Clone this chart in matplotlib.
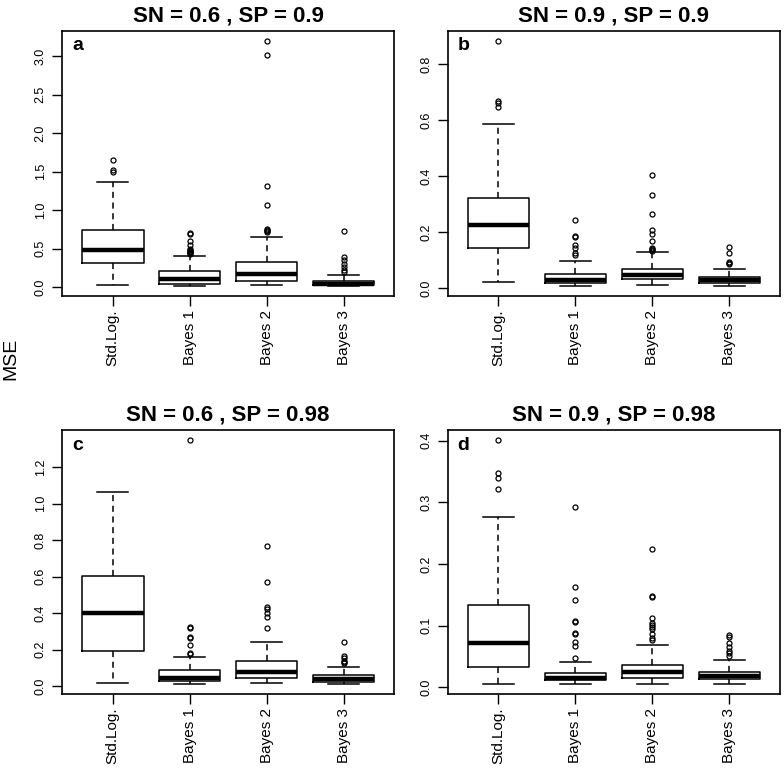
import numpy as np
import matplotlib.pyplot as plt

plt.rcParams['font.family'] = ['Liberation Sans', 'DejaVu Sans']

groups = ["Std.Log.", "Bayes 1", "Bayes 2", "Bayes 3"]
titles = ["SN = 0.6 , SP = 0.9", "SN = 0.9 , SP = 0.9",
          "SN = 0.6 , SP = 0.98", "SN = 0.9 , SP = 0.98"]
letters = ["a", "b", "c", "d"]

# panel a : SN = 0.6, SP = 0.9
a_lo = [0.02, 0.01, 0.02, 0.01]
a_q1 = [0.31, 0.035, 0.083, 0.02]
a_med = [0.48, 0.10, 0.175, 0.045]
a_q3 = [0.74, 0.205, 0.32, 0.083]
a_hi = [1.36, 0.40, 0.65, 0.16]
a_out = [[1.50, 1.52, 1.65],
         [0.43, 0.44, 0.45, 0.46, 0.47, 0.48, 0.50, 0.55, 0.60, 0.69, 0.70],
         [0.72, 0.73, 0.74, 0.75, 1.07, 1.31, 3.01, 3.20],
         [0.19, 0.22, 0.26, 0.30, 0.345, 0.39, 0.73]]
a_ticks = [0.0, 0.5, 1.0, 1.5, 2.0, 2.5, 3.0]

# panel b : SN = 0.9, SP = 0.9
b_lo = [0.022, 0.006, 0.010, 0.006]
b_q1 = [0.141, 0.018, 0.031, 0.018]
b_med = [0.225, 0.028, 0.046, 0.028]
b_q3 = [0.321, 0.051, 0.067, 0.040]
b_hi = [0.587, 0.097, 0.127, 0.069]
b_out = [[0.648, 0.660, 0.668, 0.884],
         [0.118, 0.125, 0.141, 0.153, 0.181, 0.187, 0.243],
         [0.133, 0.136, 0.139, 0.142, 0.168, 0.193, 0.207, 0.265, 0.333, 0.402],
         [0.084, 0.089, 0.093, 0.125, 0.145]]
b_ticks = [0.0, 0.2, 0.4, 0.6, 0.8]

# panel c : SN = 0.6, SP = 0.98
c_lo = [0.018, 0.011, 0.018, 0.011]
c_q1 = [0.194, 0.029, 0.042, 0.024]
c_med = [0.400, 0.042, 0.075, 0.038]
c_q3 = [0.605, 0.088, 0.137, 0.060]
c_hi = [1.062, 0.161, 0.243, 0.106]
c_out = [[],
         [0.178, 0.184, 0.225, 0.261, 0.268, 0.316, 0.325, 1.348],
         [0.316, 0.376, 0.398, 0.420, 0.435, 0.572, 0.767],
         [0.124, 0.130, 0.136, 0.152, 0.164, 0.240]]
c_ticks = [0.0, 0.2, 0.4, 0.6, 0.8, 1.0, 1.2]

# panel d : SN = 0.9, SP = 0.98
d_lo = [0.0054, 0.005, 0.0054, 0.0054]
d_q1 = [0.0336, 0.011, 0.0146, 0.013]
d_med = [0.0725, 0.0146, 0.0244, 0.019]
d_q3 = [0.1340, 0.0238, 0.0363, 0.0254]
d_hi = [0.2760, 0.0406, 0.0687, 0.0444]
d_out = [[0.321, 0.339, 0.348, 0.401],
         [0.047, 0.067, 0.073, 0.086, 0.088, 0.105, 0.107, 0.142, 0.163, 0.292],
         [0.076, 0.080, 0.086, 0.094, 0.098, 0.101, 0.104, 0.112, 0.146, 0.148, 0.224],
         [0.051, 0.055, 0.058, 0.066, 0.072, 0.082, 0.085]]
d_ticks = [0.0, 0.1, 0.2, 0.3, 0.4]

panels = [(a_lo, a_q1, a_med, a_q3, a_hi, a_out, a_ticks),
          (b_lo, b_q1, b_med, b_q3, b_hi, b_out, b_ticks),
          (c_lo, c_q1, c_med, c_q3, c_hi, c_out, c_ticks),
          (d_lo, d_q1, d_med, d_q3, d_hi, d_out, d_ticks)]

# axes positions in figure fractions (left, bottom, width, height)
positions = [(0.079, 0.616, 0.424, 0.344),
             (0.571, 0.616, 0.424, 0.344),
             (0.079, 0.100, 0.424, 0.342),
             (0.571, 0.100, 0.424, 0.342)]


def make_stats(lo, q1, med, q3, hi, out):
    stats = []
    for i in range(len(lo)):
        stats.append(dict(whislo=lo[i], q1=q1[i], med=med[i], q3=q3[i],
                          whishi=hi[i], fliers=out[i], label=groups[i]))
    return stats


fig = plt.figure(figsize=(7.84, 7.71), dpi=100)

for k, (lo, q1, med, q3, hi, out, ticks) in enumerate(panels):
    ax = fig.add_axes(positions[k])
    ax.bxp(make_stats(lo, q1, med, q3, hi, out), positions=[1, 2, 3, 4],
           widths=0.8, showfliers=True,
           boxprops=dict(color='black', linewidth=1.1),
           medianprops=dict(color='black', linewidth=3.2, solid_capstyle='butt'),
           whiskerprops=dict(color='black', linewidth=1.1, linestyle=(0, (4, 3))),
           capprops=dict(color='black', linewidth=1.1),
           capwidths=0.4,
           flierprops=dict(marker='o', markerfacecolor='none', markeredgecolor='black',
                           markersize=3.6, markeredgewidth=0.9, linestyle='none'))

    # R-style 4% axis extension
    allv = np.concatenate([lo, hi] + [np.array(o, dtype=float) for o in out])
    vmin, vmax = allv.min(), allv.max()
    span = vmax - vmin
    ax.set_ylim(vmin - 0.04 * span, vmax + 0.04 * span)
    ax.set_xlim(0.34, 4.66)

    ax.set_yticks(ticks)
    ax.set_yticklabels(["%.1f" % t for t in ticks], rotation=90, va='center',
                       fontsize=9)
    ax.set_xticks([1, 2, 3, 4])
    ax.set_xticklabels(groups, rotation=90, fontsize=11)
    ax.tick_params(axis='y', length=7, width=1, pad=4)
    ax.tick_params(axis='x', length=7, width=1, pad=3)
    for sp in ax.spines.values():
        sp.set_linewidth(1.2)

    ax.set_title(titles[k], fontsize=16, fontweight='bold', pad=7)
    ax.text(0.03, 0.975, letters[k], transform=ax.transAxes, ha='left', va='top',
            fontsize=14, fontweight='bold')

fig.text(0.0135, 0.534, "MSE", rotation=90, ha='center', va='center', fontsize=14)

fig.savefig("out.png", dpi=100)
